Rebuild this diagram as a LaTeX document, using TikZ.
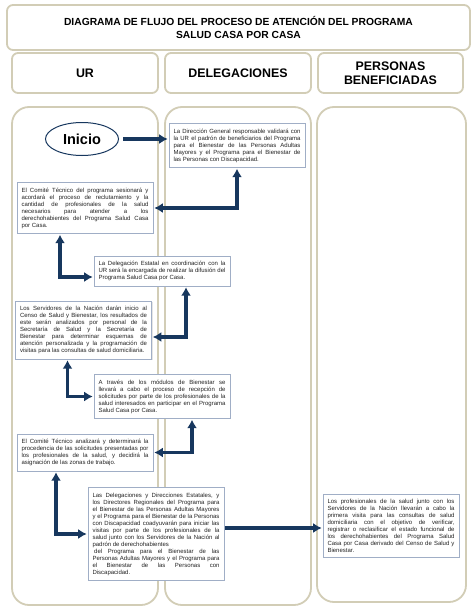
\documentclass[tikz,border=0pt]{standalone}
\usepackage{fontspec}
\setmainfont{Liberation Sans}
\usetikzlibrary{arrows.meta}
\usetikzlibrary{shapes.geometric}
\usetikzlibrary{shadows}
\definecolor{marcogris}{RGB}{210,205,182}
\definecolor{cajaborde}{RGB}{160,174,198}
\definecolor{azulflecha}{RGB}{23,55,94}
\definecolor{textogris}{RGB}{35,35,35}
\tikzstyle{marco}=[draw=marcogris, line width=1.8pt, fill=white, rounded corners=6pt]
\tikzstyle{titulo}=[marco, minimum width=463pt, minimum height=45pt, align=center, font=\bfseries\fontsize{10.3}{13}\selectfont]
\tikzstyle{encabezado}=[marco, minimum width=146pt, minimum height=40pt, align=center, font=\bfseries\fontsize{12.4}{14.5}\selectfont]
\tikzstyle{columna}=[marco, rounded corners=17pt, minimum width=146pt, minimum height=498pt]
\tikzstyle{caja}=[draw=cajaborde, line width=0.6pt, fill=white, text=textogris, text width=127pt, inner xsep=4.5pt, inner ysep=5pt, align=justify, font=\fontsize{6}{7}\selectfont, drop shadow={shadow xshift=1pt, shadow yshift=-1pt, opacity=0.2}]
\tikzstyle{inicio}=[ellipse, draw=azulflecha, line width=1pt, fill=white, minimum width=73pt, minimum height=33pt, font=\bfseries\fontsize{14.5}{16}\selectfont]
\tikzstyle{flecha}=[draw=azulflecha, line width=3.2pt, shorten <=1pt, shorten >=1pt]

\begin{document}
\begin{tikzpicture}[x=1pt, y=-1pt, >={Latex[length=8.5pt,width=10pt]}]
	\useasboundingbox (0,0) rectangle (474,613);

	\path (238.5,27.5) node[titulo] (tit) {DIAGRAMA DE FLUJO DEL PROCESO DE ATENCIÓN DEL PROGRAMA\\SALUD CASA POR CASA}
	   (85,73) node[encabezado] (h_ur) {UR}
	   (238,73) node[encabezado] (h_del) {DELEGACIONES}
	   (390.5,73) node[encabezado, minimum width=145pt] (h_ben) {PERSONAS\\BENEFICIADAS}
	   (85,356) node[columna] (c_ur) {}
	   (238,356) node[columna] (c_del) {}
	   (391.5,354.5) node[columna, minimum width=149pt, minimum height=495pt] (c_ben) {};

	\path (82,139) node[inicio] (p_0) {Inicio}
	   (237,145.5) node[caja] (p_1) {La Dirección General responsable validará con\linebreak la UR el padrón de beneficiarios del Programa\linebreak para el Bienestar de las Personas Adultas\linebreak Mayores y el Programa para el Bienestar de\linebreak las Personas con Discapacidad.}
	   (85,208) node[caja] (p_2) {El Comité Técnico del programa sesionará y\linebreak acordará el proceso de reclutamiento y la\linebreak cantidad de profesionales de la salud\linebreak necesarios para atender a los\linebreak derechohabientes del Programa Salud Casa\linebreak por Casa.}
	   (162,271) node[caja] (p_3) {La Delegación Estatal en coordinación con la\linebreak UR será la encargada de realizar la difusión del\linebreak Programa Salud Casa por Casa.}
	   (83.5,330) node[caja] (p_4) {Los Servidores de la Nación darán inicio al\linebreak Censo de Salud y Bienestar, los resultados de\linebreak este serán analizados por personal de la\linebreak Secretaría de Salud y la Secretaría de\linebreak Bienestar para determinar esquemas de\linebreak atención personalizada y la programación de\linebreak visitas para las consultas de salud domiciliaria.}
	   (162,396.5) node[caja] (p_5) {A través de los módulos de Bienestar se\linebreak llevará a cabo el proceso de recepción de\linebreak solicitudes por parte de los profesionales de la\linebreak salud interesados en participar en el Programa\linebreak Salud Casa por Casa.}
	   (85,452.5) node[caja] (p_6) {El Comité Técnico analizará y determinará la\linebreak procedencia de las solicitudes presentadas por\linebreak los profesionales de la salud, y decidirá la\linebreak asignación de las zonas de trabajo.}
	   (156,534) node[caja] (p_7) {Las Delegaciones y Direcciones Estatales, y\linebreak los Directores Regionales del Programa para\linebreak el Bienestar de las Personas Adultas Mayores\linebreak y el Programa para el Bienestar de la Personas\linebreak con Discapacidad coadyuvarán para iniciar las\linebreak visitas por parte de los profesionales de la\linebreak salud junto con los Servidores de la Nación al\linebreak padrón de derechohabientes\\\hspace*{1.7pt}del Programa para el Bienestar de las\linebreak Personas Adultas Mayores y el Programa para\linebreak el Bienestar de las Personas con\linebreak Discapacidad.}
	   (391,525.5) node[caja] (p_8) {Los profesionales de la salud junto con los\linebreak Servidores de la Nación llevarán a cabo la\linebreak primera visita para las consultas de salud\linebreak domiciliaria con el objetivo de verificar,\linebreak registrar o reclasificar el estado funcional de\linebreak los derechohabientes del Programa Salud\linebreak Casa por Casa derivado del Censo de Salud y\linebreak Bienestar.};

	\draw[flecha, ->, shorten <=4pt] (p_0) -- (p_0 -| p_1.west);
	\draw[flecha, <->] (p_1.south) |- (p_2.east);
	\draw[flecha, <->] ([xshift=-25pt]p_2.south) |- ([yshift=-6pt]p_3.west);
	\draw[flecha, <->] ([xshift=24pt]p_3.south) |- ([yshift=-7pt]p_4.east);
	\draw[flecha, <->] ([xshift=-16pt]p_4.south) |- (p_5.west);
	\draw[flecha, <->] ([xshift=30pt]p_5.south) |- (p_6.east);
	\draw[flecha, <->] ([xshift=-29pt]p_6.south) |- (p_7.west);
	\draw[flecha, ->] ([yshift=6pt]p_7.east) -- ([yshift=6pt]p_7.east -| p_8.west);

\end{tikzpicture}
\end{document}
